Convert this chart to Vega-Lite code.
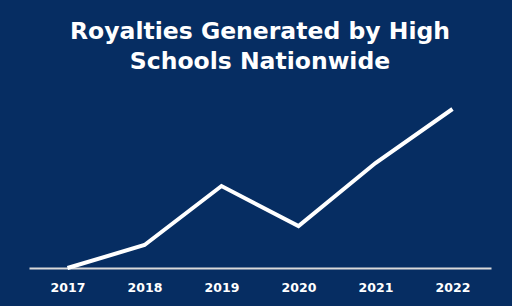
{
  "$schema": "https://vega.github.io/schema/vega-lite/v6.json",
  "autosize": {"type": "none"},
  "width": 462,
  "height": 173,
  "padding": {"left": 29, "top": 95, "right": 21, "bottom": 38},
  "background": "#062d62",
  "title": {
    "text": ["Royalties Generated by High", "Schools Nationwide"],
    "color": "white",
    "font": "DejaVu Sans",
    "fontSize": 23.5,
    "fontWeight": "bold",
    "lineHeight": 30,
    "anchor": "middle",
    "offset": 22
  },
  "data": {
    "values": [
      {"year": "2017", "royalties": 0},
      {"year": "2018", "royalties": 23},
      {"year": "2019", "royalties": 82},
      {"year": "2020", "royalties": 42},
      {"year": "2021", "royalties": 105},
      {"year": "2022", "royalties": 159}
    ]
  },
  "mark": {"type": "line", "color": "white", "strokeWidth": 4, "strokeJoin": "miter"},
  "encoding": {
    "x": {
      "field": "year",
      "type": "ordinal",
      "scale": {"type": "point", "padding": 0.5},
      "axis": {
        "title": null,
        "labelAngle": 0,
        "labelColor": "white",
        "labelFont": "DejaVu Sans",
        "labelFontWeight": "bold",
        "labelFontSize": 12.5,
        "labelPadding": 13,
        "ticks": false,
        "grid": false,
        "domainColor": "#d9d9d9",
        "domainWidth": 2
      }
    },
    "y": {
      "field": "royalties",
      "type": "quantitative",
      "scale": {"domain": [0, 173], "nice": false},
      "axis": null
    }
  },
  "config": {"view": {"stroke": null}}
}
